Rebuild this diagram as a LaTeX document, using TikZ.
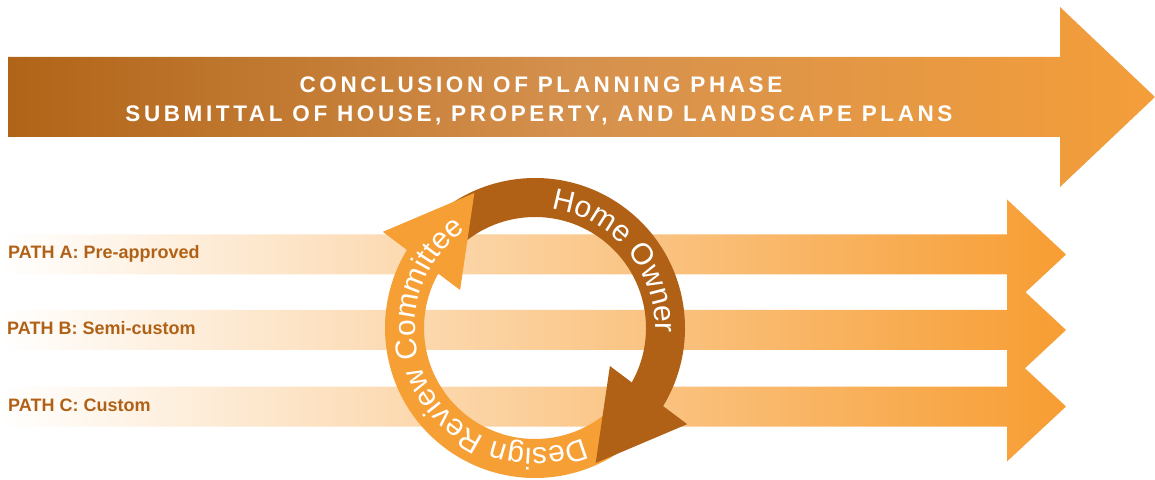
\documentclass[tikz,border=0pt]{standalone}
\usepackage{fontspec}
\setmainfont{Liberation Sans}
\newfontfamily\titlefont[LetterSpace=16]{Liberation Sans}
\usetikzlibrary{decorations.text}
\definecolor{brownc}{RGB}{176,97,22}
\definecolor{orangec}{RGB}{246,159,52}
\definecolor{topL}{RGB}{176,100,24}
\definecolor{topM}{RGB}{213,145,78}
\definecolor{topR}{RGB}{244,158,58}
\definecolor{barR}{RGB}{247,157,50}
\definecolor{labelc}{RGB}{176,97,22}
\newcommand\ringfont{\fontsize{30}{30}\selectfont}
\begin{document}
\begin{tikzpicture}[x=1pt,y=1pt]
\tikzset{
  pathbar/.style={left color=white,right color=barR},
  pathlabel/.style={anchor=base west,inner sep=0pt,text=labelc,font=\fontsize{18}{18}\selectfont\bfseries},
  titletext/.style={anchor=base,inner sep=0pt,text=white,font=\titlefont\fontsize{22.5}{22.5}\selectfont\bfseries},
}
\useasboundingbox (0,0) rectangle (1155,479);
% top arrow
\path[left color=topL,right color=topR,middle color=topM]
  (8,342) -- (1060,342) -- (1060,292) -- (1155,382) -- (1060,472) -- (1060,422) -- (8,422) -- cycle;
\node[titletext] (t1) at (541,386) {CONCLUSION OF PLANNING PHASE};
\node[titletext] (t2) at (539,357) {SUBMITTAL OF HOUSE, PROPERTY, AND LANDSCAPE PLANS};
% path bars
\path[pathbar] (0,204.5) -- (1007,204.5) -- (1007,169.5) -- (1066,224.5) -- (1007,279.5) -- (1007,244.5) -- (0,244.5) -- cycle;
\path[pathbar] (0,129) -- (1007,129) -- (1007,94) -- (1066,149) -- (1007,204) -- (1007,169) -- (0,169) -- cycle;
\path[pathbar] (0,52.5) -- (1007,52.5) -- (1007,17.5) -- (1066,72.5) -- (1007,127.5) -- (1007,92.5) -- (0,92.5) -- cycle;
\node[pathlabel] (la) at (8,220) {PATH A: Pre-approved};
\node[pathlabel] (lb) at (7,144) {PATH B: Semi-custom};
\node[pathlabel] (lc) at (8,67) {PATH C: Custom};
% cycle
\begin{scope}[shift={(535,151)}]
  \fill[brownc] (140:150) arc[start angle=140,end angle=-40,radius=150]
     -- (-40:111) arc[start angle=-40,end angle=140,radius=111] -- cycle;
  \fill[orangec] (-40:150) arc[start angle=-40,end angle=-220,radius=150]
     -- (140:111) arc[start angle=140,end angle=320,radius=111] -- cycle;
  \fill[brownc] (-32.3:180) -- (-65.8:148) -- (-26.9:84) -- cycle;
  \fill[orangec] (147.7:180) -- (114.2:148) -- (153.1:84) -- cycle;
  \path[decorate,decoration={text along path,text={|\ringfont\color{white}|Home Owner}}]
     (82:120) arc[start angle=82,end angle=-20,radius=120];
  \path[decorate,decoration={text along path,text={|\ringfont\color{white}|Design Review Committee}}]
     (-66:120) arc[start angle=-66,end angle=-250,radius=120];
\end{scope}
\end{tikzpicture}
\end{document}
